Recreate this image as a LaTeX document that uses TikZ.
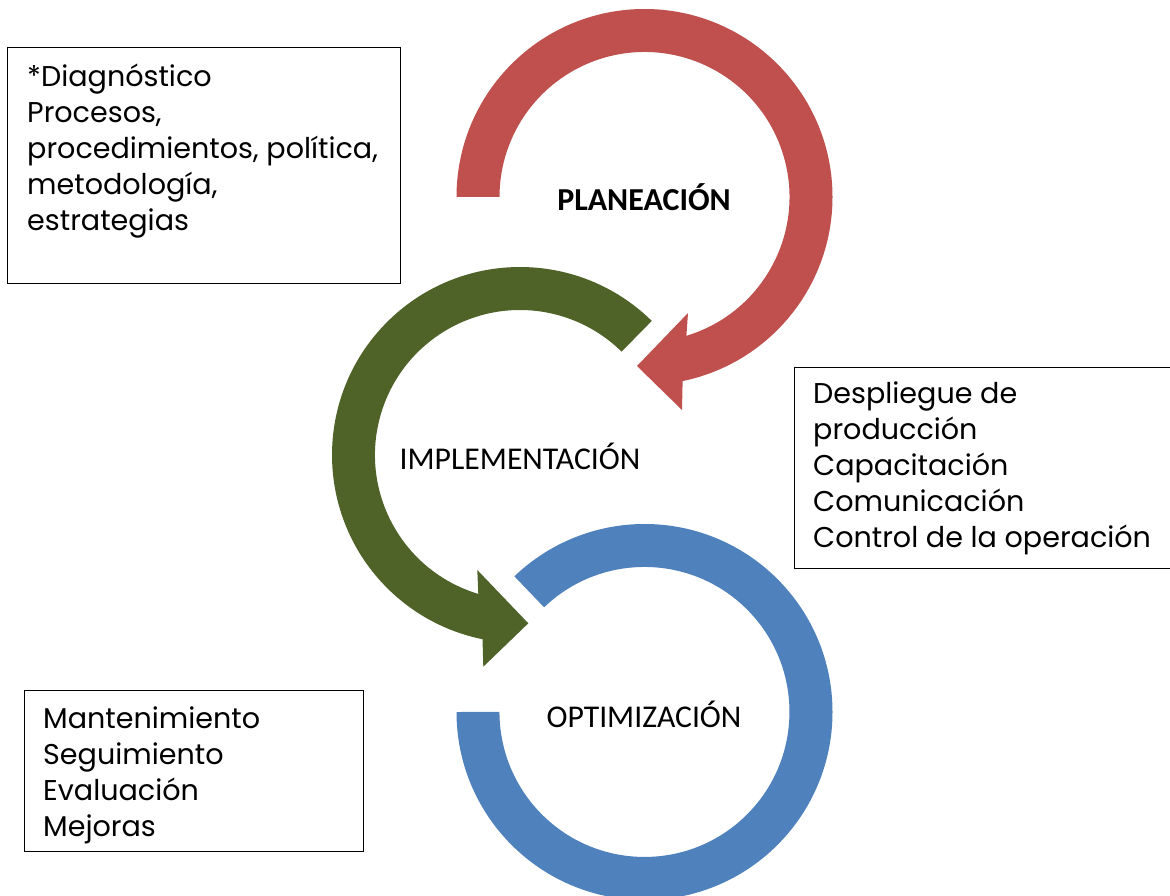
\documentclass[tikz,border=0pt]{standalone}
\usepackage{fontspec}
\setmainfont{Poppins}
\newfontfamily\labelfont{Carlito}
\definecolor{redc}{HTML}{C0504D}
\definecolor{greenc}{HTML}{4F6228}
\definecolor{bluec}{HTML}{4F81BD}
\tikzset{
  infobox/.style={draw=black, line width=1.2pt, anchor=north west, inner sep=0pt},
  infotext/.style={anchor=north west, inner sep=0pt, align=left, font=\fontsize{28.6}{36}\selectfont},
  ringlabel/.style={inner sep=0pt, font=\labelfont\fontsize{31.7}{36}\selectfont},
}
\begin{document}
\begin{tikzpicture}[x=1pt,y=-1pt]
\useasboundingbox (0,0) rectangle (1170,896);
\clip (0,0) rectangle (1170,896);
\fill[white] (0,0) rectangle (1170,896);

% red ring (planeacion)
\fill[redc] (644.5,197) ++(180:188) arc[start angle=180,end angle=438.3,radius=188]
  -- (682,410) -- (637,366) -- (688,313) -- (686.4,335.8)
  arc[start angle=433.2,end angle=180,radius=145] -- cycle;

% green ring (implementacion)
\fill[greenc] (520,455) ++(-45.5:188) arc[start angle=-45.5,end angle=-258.5,radius=188]
  -- (483.3,666.7) -- (528.3,623.3) -- (477.3,570) -- (478.3,593.9)
  arc[start angle=-253.3,end angle=-45.5,radius=145] -- cycle;

% blue ring (optimizacion)
\fill[bluec] (644.5,712) ++(180:188) arc[start angle=180,end angle=-133.8,radius=188]
  -- (544.1,607.3) arc[start angle=-133.8,end angle=180,radius=145] -- cycle;

\node[ringlabel, font=\labelfont\bfseries\fontsize{32}{36}\selectfont] (plan) at (644,197) {PLANEACIÓN};
\node[ringlabel] (impl) at (520,456) {IMPLEMENTACIÓN};
\node[ringlabel] (opt) at (644,714) {OPTIMIZACIÓN};

% boxes
\node[infobox, minimum width=393, minimum height=236] (box1) at (7,47) {};
\node[infotext] (t1) at (27,61) {\strut*Diagnóstico\\Procesos,\\procedimientos, política,\\metodología,\\estrategias};

\node[infobox, minimum width=400, minimum height=201] (box2) at (793.5,367) {};
\node[infotext] (t2) at (813,378) {\strut Despliegue de\\producción\\Capacitación\\Comunicación\\Control de la operación};

\node[infobox, minimum width=339, minimum height=161] (box3) at (23.5,689.5) {};
\node[infotext] (t3) at (43,703) {\strut Mantenimiento\\Seguimiento\\Evaluación\\Mejoras};
\end{tikzpicture}
\end{document}
